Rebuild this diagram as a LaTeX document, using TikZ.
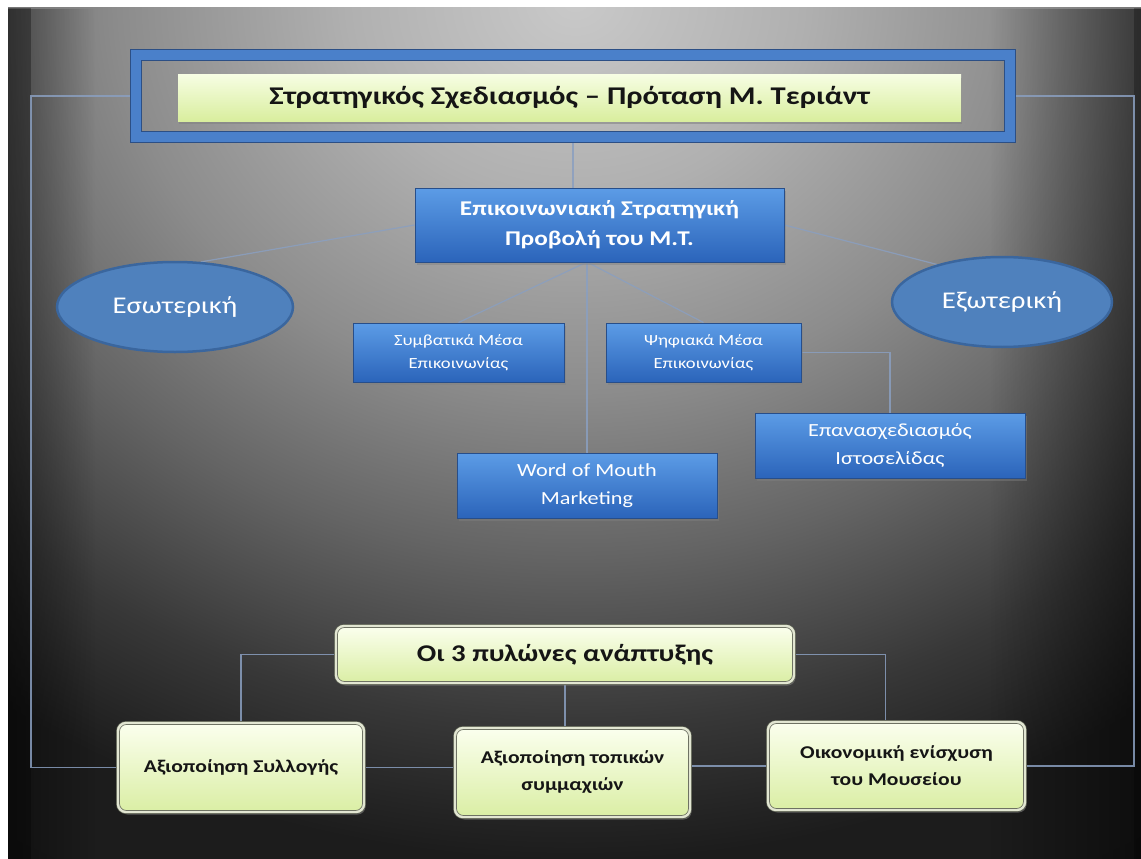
\documentclass[tikz,border=0pt]{standalone}
\usepackage{fontspec}
\setmainfont{Carlito}[FakeStretch=1.2]
\usetikzlibrary{shapes.geometric,shadows,fadings}
\definecolor{bg0}{HTML}{C9C9C9}
\definecolor{bg1}{HTML}{B0B0B0}
\definecolor{bg2}{HTML}{8C8C8C}
\definecolor{bg3}{HTML}{646464}
\definecolor{bg4}{HTML}{383838}
\definecolor{bg5}{HTML}{242424}
\definecolor{bg6}{HTML}{1C1C1C}
\definecolor{bg7}{HTML}{181818}
\definecolor{connc}{HTML}{8A9FC0}
\definecolor{bluetop}{HTML}{5C9CE6}
\definecolor{bluebot}{HTML}{2B64BA}
\definecolor{blueedge}{HTML}{274E8A}
\definecolor{ellfill}{HTML}{4F81BD}
\definecolor{elledge}{HTML}{3A669E}
\definecolor{frameblue}{HTML}{4A80CA}
\definecolor{frameedge}{HTML}{2C4F85}
\definecolor{gtop}{HTML}{FBFFEE}
\definecolor{gbot}{HTML}{DAEEA4}
\definecolor{gedge}{HTML}{5E6254}
\definecolor{grim}{HTML}{E2E6D2}
\definecolor{ttop}{HTML}{F6FDE2}
\definecolor{tbot}{HTML}{D9EE9E}
\definecolor{textdark}{HTML}{151515}
\pgfdeclareradialshading{slidebg}{\pgfpoint{0bp}{0bp}}{color(0bp)=(bg0); color(5.7bp)=(bg1); color(11.4bp)=(bg2); color(16.2bp)=(bg3); color(21bp)=(bg4); color(23.8bp)=(bg5); color(25bp)=(bg6); color(50bp)=(bg7)}
\tikzfading[name=fromleft, left color=transparent!0, right color=transparent!100]
\tikzfading[name=fromright, left color=transparent!100, right color=transparent!0]
\pgfdeclarelayer{back}
\pgfsetlayers{back,main}
\tikzset{
  conn/.style={draw=connc, line width=1.2pt, draw opacity=0.85},
  bluebox/.style={rectangle, draw=blueedge, line width=0.9pt, top color=bluetop, bottom color=bluebot,
    text=white, align=center, inner sep=0pt,
    drop shadow={opacity=0.45, shadow xshift=2pt, shadow yshift=-3pt}},
  ellnode/.style={ellipse, draw=elledge, line width=2.5pt, fill=ellfill, text=white, inner sep=0pt,
    font=\fontsize{24}{28}\selectfont},
  greenbox/.style={rectangle, rounded corners=8pt, draw=gedge, double=grim, double distance=2.4pt,
    line width=0.7pt, top color=gtop, bottom color=gbot, text=textdark, align=center, inner sep=0pt,
    drop shadow={opacity=0.6, shadow xshift=1.5pt, shadow yshift=-2.5pt}},
  smallfont/.style={font=\fontsize{15.5}{23}\selectfont},
  midfont/.style={font=\fontsize{18.5}{28}\selectfont},
  pillarfont/.style={font=\bfseries\fontsize{18}{27}\selectfont},
}
\begin{document}
\begin{tikzpicture}[x=1pt,y=-1pt]
\useasboundingbox (0,0) rectangle (1141,859);
\begin{pgfonlayer}{back}
\fill[white] (0,0) rectangle (1141,859);
\begin{scope}
  \clip (8,8) rectangle (1141,859);
  \fill[bg7] (8,8) rectangle (1141,859);
  \shade[shading=slidebg] (-425,-860) rectangle (1575,860);
  \fill[black, opacity=0.4, path fading=fromleft] (8,8) rectangle (95,859);
  \fill[black, opacity=0.3] (8,8) rectangle (31,859);
  \fill[black, opacity=0.5, path fading=fromright] (990,8) rectangle (1141,859);
  \fill[black, opacity=0.25] (1134,8) rectangle (1141,859);
\end{scope}
\end{pgfonlayer}

% title
\node[rectangle, draw=frameedge, double=frameblue, double distance=10pt, line width=1pt,
  minimum width=874pt, minimum height=82pt, inner sep=0pt] (frame) at (573,96) {};
\node[rectangle, top color=ttop, bottom color=tbot, minimum width=783pt, minimum height=46pt, inner sep=0pt,
  text=textdark, font=\bfseries\fontsize{25.5}{30}\selectfont,
  drop shadow={opacity=0.55, shadow xshift=1pt, shadow yshift=-3pt}] (title) at (569.5,98)
  {Στρατηγικός Σχεδιασμός – Πρόταση Μ. Τεριάντ};

% communication strategy
\node[bluebox, minimum width=369pt, minimum height=74pt, font=\bfseries\fontsize{21}{30}\selectfont] (comm) at (599.5,225)
  {Επικοινωνιακή Στρατηγική\\Προβολή του Μ.Τ.};
\node[ellnode, minimum width=236pt, minimum height=90pt] (esw) at (175,307) {Εσωτερική};
\node[ellnode, minimum width=220pt, minimum height=90pt] (exw) at (1002,302) {Εξωτερική};
\node[bluebox, smallfont, minimum width=211pt, minimum height=59pt] (symb) at (458.5,352.5)
  {Συμβατικά Μέσα\\Επικοινωνίας};
\node[bluebox, smallfont, minimum width=195pt, minimum height=59pt] (psif) at (703.5,352.5)
  {Ψηφιακά Μέσα\\Επικοινωνίας};
\node[bluebox, midfont, minimum width=260pt, minimum height=65pt] (wom) at (587,485.5)
  {Word of Mouth\\Marketing};
\node[bluebox, midfont, minimum width=270pt, minimum height=65pt] (epan) at (890,445.5)
  {Επανασχεδιασμός\\Ιστοσελίδας};

% pillars
\node[greenbox, minimum width=458pt, minimum height=57pt, font=\bfseries\fontsize{24}{28}\selectfont] (oi3) at (565,654.5)
  {Οι 3 πυλώνες ανάπτυξης};
\node[greenbox, pillarfont, minimum width=246pt, minimum height=89pt] (syll) at (241,767.5)
  {Αξιοποίηση Συλλογής};
\node[greenbox, pillarfont, minimum width=235pt, minimum height=89pt] (topik) at (572.5,772.5)
  {Αξιοποίηση τοπικών\\συμμαχιών};
\node[greenbox, pillarfont, minimum width=257pt, minimum height=88pt] (oikon) at (896.5,766)
  {Οικονομική ενίσχυση\\του Μουσείου};

\coordinate (L) at (31,96);
\coordinate (R) at (1134,96);
\coordinate (hub) at (587,262);

\begin{pgfonlayer}{back}
\draw[conn] (frame.west) -- (L) |- (syll.west);
\draw[conn] (frame.east) -- (R) |- (oikon.east);
\draw[conn] (frame.south) -- (comm.north -| frame.south);
\draw[conn] (comm.west) -- (esw.60);
\draw[conn] (comm.east) -- (exw.150);
\draw[conn] (hub) -- (wom.north);
\draw[conn] (hub) -- (symb.north);
\draw[conn] (hub) -- (psif.north);
\draw[conn] (psif.east) -| (epan.north);
\draw[conn] (oi3.west) -| (syll.north);
\draw[conn] (oi3.east) -| ([xshift=-11pt]oikon.north);
\draw[conn] (oi3.south) -- (oi3.south |- topik.north);
\draw[conn] (syll.east) -- (syll.east -| topik.west);
\draw[conn] (oikon.west) -- (oikon.west -| topik.east);
\end{pgfonlayer}
\end{tikzpicture}
\end{document}
